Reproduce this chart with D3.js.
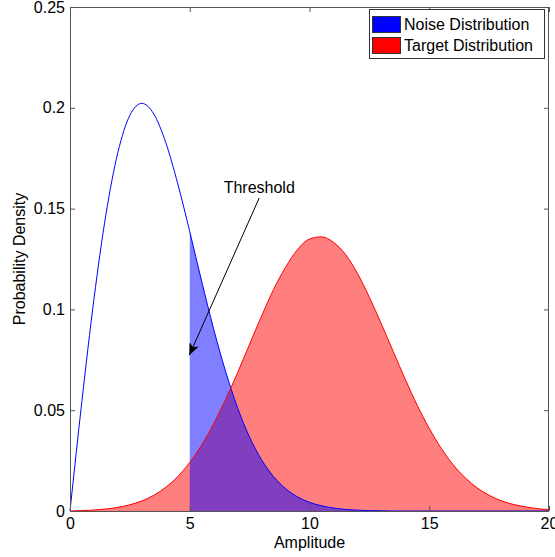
<!DOCTYPE html>
<html>
<head>
<meta charset="utf-8">
<script src="https://cdn.jsdelivr.net/npm/d3@7"></script>
<style>
  body { margin: 0; background: #fff; }
  svg { display: block; font-family: "Liberation Sans", Arial, sans-serif; }
  .axis text { font-size: 16px; fill: #000; }
  .axis line { stroke: #555; }
</style>
</head>
<body>
<div id="chart"></div>
<script>
// amplitude samples (0 .. 20, step 0.5)
var amplitude = d3.range(0, 20.01, 0.5);
// noise distribution
var noiseDensity = [0, 0.0548, 0.1051, 0.1471, 0.1779, 0.1963, 0.2022, 0.1969, 0.1827, 0.1623,
    0.1386, 0.1138, 0.0902, 0.0691, 0.0511, 0.0366, 0.0254, 0.0171, 0.0111, 0.0070,
    0.0043, 0.0026, 0.0015, 0.0008, 0.0004, 0.0002, 0.0001, 0, 0, 0,
    0, 0, 0, 0, 0, 0, 0, 0, 0, 0, 0];
// target distribution
var targetDensity = [0, 0.0002, 0.0005, 0.0010, 0.0018, 0.0031, 0.0050, 0.0078, 0.0118, 0.0171,
    0.0241, 0.0328, 0.0433, 0.0554, 0.0687, 0.0828, 0.0967, 0.1099, 0.1209, 0.1297,
    0.1349, 0.1360, 0.1333, 0.1273, 0.1179, 0.1060, 0.0928, 0.0790, 0.0653, 0.0524,
    0.0410, 0.0311, 0.0229, 0.0165, 0.0115, 0.0078, 0.0051, 0.0033, 0.0021, 0.0012, 0.0007];
var threshold = 5;
var xTicks = [0, 5, 10, 15, 20];
var yTicks = [0, 0.05, 0.1, 0.15, 0.2, 0.25];
var legendLabels = ["Noise Distribution", "Target Distribution"];
var legendColors = ["#0000ff", "#ff0000"];
// annotation: label position and arrow tail/tip in data units
var annotText = "Threshold";
var annotLabel = [7.9, 0.1575];
var annotTail = [7.9, 0.1553];
var annotTip = [4.98, 0.0772];

var width = 555, height = 557;
var margin = { top: 7, right: 6, bottom: 46, left: 70 };

var svg = d3.select("#chart").append("svg")
    .attr("width", width)
    .attr("height", height);

var x = d3.scaleLinear().domain([0, 20]).range([margin.left, width - margin.right]);
var y = d3.scaleLinear().domain([0, 0.25]).range([height - margin.bottom, margin.top]);

var rows = amplitude.map(function (a, i) {
    return { a: a, noise: noiseDensity[i], target: targetDensity[i] };
});

//  Fills ---
var area = function (key) {
    return d3.area()
        .curve(d3.curveMonotoneX)
        .x(function (d) { return x(d.a); })
        .y0(y(0))
        .y1(function (d) { return y(d[key]); });
};
svg.append("path")
    .datum(rows)
    .attr("d", area("target"))
    .attr("fill", "rgba(255,0,0,0.5)");
svg.append("path")
    .datum(rows.filter(function (d) { return d.a >= threshold; }))
    .attr("d", area("noise"))
    .attr("fill", "rgba(0,0,255,0.5)");

//  Curves ---
var line = function (key) {
    return d3.line()
        .curve(d3.curveMonotoneX)
        .x(function (d) { return x(d.a); })
        .y(function (d) { return y(d[key]); });
};
svg.append("path")
    .datum(rows)
    .attr("d", line("noise"))
    .attr("fill", "none")
    .attr("stroke", "#0000ff")
    .attr("stroke-width", 1);
svg.append("path")
    .datum(rows)
    .attr("d", line("target"))
    .attr("fill", "none")
    .attr("stroke", "#ff0000")
    .attr("stroke-width", 1);

//  Axes ---
var x0 = x.range()[0], x1 = x.range()[1], y0 = y.range()[0], y1 = y.range()[1];
svg.append("g")
    .attr("class", "axis")
    .attr("transform", "translate(0," + y0 + ")")
    .call(d3.axisBottom(x).tickValues(xTicks).tickFormat(d3.format("d"))
        .tickSizeInner(-5).tickSizeOuter(0).tickPadding(7))
    .call(function (g) { g.select(".domain").remove(); });
svg.append("g")
    .attr("class", "axis")
    .attr("transform", "translate(0," + y1 + ")")
    .call(d3.axisTop(x).tickValues(xTicks).tickFormat("")
        .tickSizeInner(-5).tickSizeOuter(0))
    .call(function (g) { g.select(".domain").remove(); });
svg.append("g")
    .attr("class", "axis")
    .attr("transform", "translate(" + x0 + ",0)")
    .call(d3.axisLeft(y).tickValues(yTicks).tickFormat(function (d) { return String(+d.toFixed(2)); })
        .tickSizeInner(-5).tickSizeOuter(0).tickPadding(5))
    .call(function (g) { g.select(".domain").remove(); });
svg.append("g")
    .attr("class", "axis")
    .attr("transform", "translate(" + x1 + ",0)")
    .call(d3.axisRight(y).tickValues(yTicks).tickFormat("")
        .tickSizeInner(-5).tickSizeOuter(0))
    .call(function (g) { g.select(".domain").remove(); });
svg.append("rect")
    .attr("x", x0 + 0.5).attr("y", y1 + 0.5)
    .attr("width", x1 - x0 - 1).attr("height", y0 - y1)
    .attr("fill", "none")
    .attr("stroke", "#555");

svg.append("text")
    .attr("x", (x0 + x1) / 2)
    .attr("y", 548)
    .attr("text-anchor", "middle")
    .style("font-size", "16px")
    .text("Amplitude");
svg.append("text")
    .attr("transform", "translate(25," + (y0 + y1) / 2 + ") rotate(-90)")
    .attr("text-anchor", "middle")
    .style("font-size", "16px")
    .text("Probability Density");

//  Annotation ---
svg.append("defs").append("marker")
    .attr("id", "arrow")
    .attr("viewBox", "0 0 12 10")
    .attr("refX", 12).attr("refY", 5)
    .attr("markerWidth", 12).attr("markerHeight", 10)
    .attr("markerUnits", "userSpaceOnUse")
    .attr("orient", "auto")
    .append("path")
    .attr("d", "M0,0 L12,5 L0,10 L3,5 Z")
    .attr("fill", "#000");
svg.append("line")
    .attr("x1", x(annotTail[0])).attr("y1", y(annotTail[1]))
    .attr("x2", x(annotTip[0])).attr("y2", y(annotTip[1]))
    .attr("stroke", "#000")
    .attr("stroke-width", 1)
    .attr("marker-end", "url(#arrow)");
svg.append("text")
    .attr("x", x(annotLabel[0]))
    .attr("y", y(annotLabel[1]))
    .attr("text-anchor", "middle")
    .style("font-size", "16px")
    .text(annotText);

//  Legend ---
var legend = svg.append("g").attr("transform", "translate(369,9)");
legend.append("rect")
    .attr("x", 0.5).attr("y", 0.5)
    .attr("width", 175).attr("height", 49)
    .attr("fill", "#fff")
    .attr("stroke", "#333");
var item = legend.selectAll(".item")
    .data(legendLabels)
    .enter().append("g")
    .attr("class", "item")
    .attr("transform", function (d, i) { return "translate(0," + (7 + i * 21) + ")"; });
item.append("rect")
    .attr("x", 3.5).attr("y", 0.5)
    .attr("width", 28).attr("height", 16)
    .attr("fill", function (d, i) { return legendColors[i]; })
    .attr("stroke", "#333");
item.append("text")
    .attr("x", 35)
    .attr("y", 14)
    .style("font-size", "16px")
    .text(function (d) { return d; });
</script>
</body>
</html>
